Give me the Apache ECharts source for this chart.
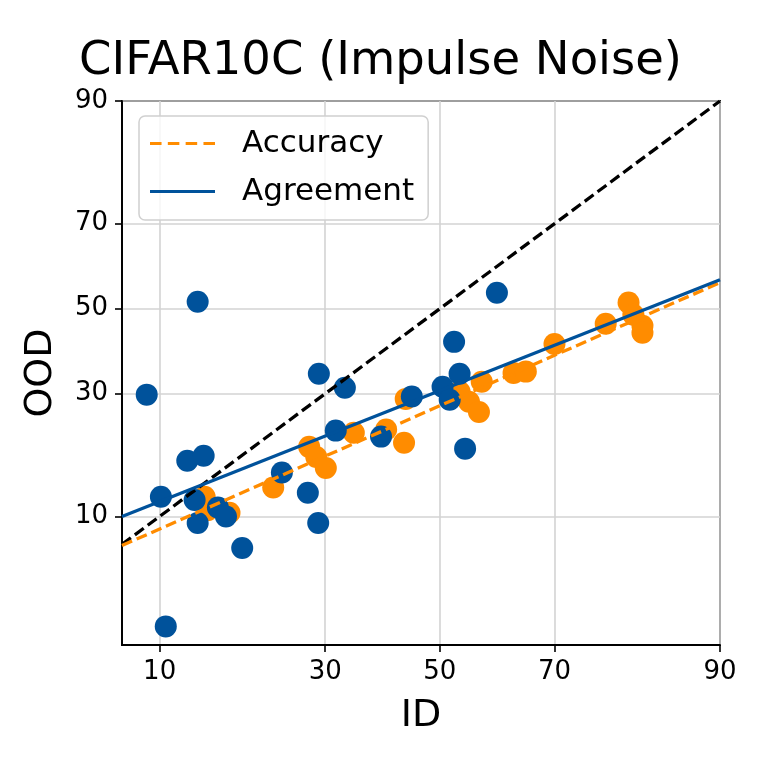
<!DOCTYPE html>
<html>
<head>
<meta charset="utf-8">
<script src="https://cdn.jsdelivr.net/npm/echarts@6/dist/echarts.min.js"></script>
<style>
  html, body { margin: 0; padding: 0; background: #fff; }
  #chart { width: 761px; height: 761px; }
</style>
</head>
<body>
<div id="chart"></div>
<script>
// values in percent (probit axes)
var accId  = [14.1, 14.4, 16.8, 22.3, 27.5, 28.6, 30.1, 34.7, 40.3, 43.5, 43.8, 53.6, 55.3, 57.1, 57.6, 63.2, 65.3, 70.0, 77.6, 80.6, 81.2, 82.3, 82.3];
var accOod = [12.3, 10.7, 10.4, 13.5, 19.7, 18.0, 16.3, 22.2, 22.8, 20.4, 28.9, 30.4, 28.3, 26.2, 32.6, 34.6, 34.9, 41.4, 46.3, 51.5, 48.5, 45.8, 44.1];

var agrId  = [9.0, 13.4, 10.5, 10.1, 12.4, 14.0, 13.1, 13.4, 15.5, 16.4, 18.3, 23.5, 27.3, 28.9, 29.0, 33.2, 31.7, 39.4, 44.9, 50.5, 51.8, 52.6, 53.6, 54.6, 60.3];
var agrOod = [29.8, 51.7, 2.5, 12.3, 17.4, 18.2, 11.9, 9.3, 11.0, 10.0, 7.0, 15.6, 12.8, 9.3, 34.4, 31.3, 22.6, 21.5, 29.4, 31.5, 28.7, 41.9, 34.4, 19.4, 53.9];

// fitted lines (end points) and the y = x reference
var accFitId  = [7.3, 90];
var accFitOod = [7.2, 56.4];
var agrFitId  = [7.3, 90];
var agrFitOod = [10.0, 57.1];
var diagId    = [7.3, 90];
var diagOod   = [7.3, 90];

var tickLabels = [10, 30, 50, 70, 90];
var xRange = [7.3, 90];
var yRange = [1.9, 90];

// inverse normal cdf (Acklam)
function probit(p) {
  var a = [-3.969683028665376e+01, 2.209460984245205e+02, -2.759285104469687e+02, 1.383577518672690e+02, -3.066479806614716e+01, 2.506628277459239e+00];
  var b = [-5.447609879822406e+01, 1.615858368580409e+02, -1.556989798598866e+02, 6.680131188771972e+01, -1.328068155288572e+01];
  var c = [-7.784894002430293e-03, -3.223964580411365e-01, -2.400758277161838e+00, -2.549732539343734e+00, 4.374664141464968e+00, 2.938163982698783e+00];
  var d = [7.784695709041462e-03, 3.224671290700398e-01, 2.445134137142996e+00, 3.754408661907416e+00];
  var pl = 0.02425, q, r;
  if (p < pl) {
    q = Math.sqrt(-2 * Math.log(p));
    return (((((c[0]*q+c[1])*q+c[2])*q+c[3])*q+c[4])*q+c[5]) / ((((d[0]*q+d[1])*q+d[2])*q+d[3])*q+1);
  }
  if (p <= 1 - pl) {
    q = p - 0.5; r = q * q;
    return (((((a[0]*r+a[1])*r+a[2])*r+a[3])*r+a[4])*r+a[5])*q / (((((b[0]*r+b[1])*r+b[2])*r+b[3])*r+b[4])*r+1);
  }
  q = Math.sqrt(-2 * Math.log(1 - p));
  return -(((((c[0]*q+c[1])*q+c[2])*q+c[3])*q+c[4])*q+c[5]) / ((((d[0]*q+d[1])*q+d[2])*q+d[3])*q+1);
}
function pr(v) { return probit(v / 100); }
function pairs(xs, ys) {
  return xs.map(function (x, i) { return [pr(x), pr(ys[i])]; });
}

var tickPos = tickLabels.map(pr);
function tickFormatter(v) {
  var best = 0;
  for (var i = 1; i < tickPos.length; i++) {
    if (Math.abs(tickPos[i] - v) < Math.abs(tickPos[best] - v)) best = i;
  }
  return String(tickLabels[best]);
}

var FONT = 'DejaVu Sans';
var ORANGE = '#ff8c00';
var BLUE = '#00529b';

// legend glyphs: a dashed and a solid short line
var DASH_ICON = 'path://M0,0h11v3h-11z M17,0h11v3h-11z M34,0h11v3h-11z M51,0h11v3h-11z';
var SOLID_ICON = 'path://M0,0h62v3h-62z';

function axisCommon(range, name, gap) {
  return {
    type: 'value',
    min: pr(range[0]),
    max: pr(range[1]),
    name: name,
    nameLocation: 'middle',
    nameGap: gap,
    nameTextStyle: { fontFamily: FONT, fontSize: 38, color: '#000' },
    axisLine: { show: true, onZero: false, lineStyle: { color: '#000', width: 1.8 } },
    axisTick: { show: true, length: 7, inside: false, customValues: tickPos, lineStyle: { color: '#000', width: 1.6 } },
    axisLabel: { customValues: tickPos, formatter: tickFormatter, margin: 14, fontFamily: FONT, fontSize: 26, color: '#000' },
    splitLine: { show: true, lineStyle: { color: '#d3d3d3', width: 1.6 } }
  };
}

var dom = document.getElementById('chart');
var myChart = echarts.init(dom, null, { renderer: 'canvas' });

var option = {
  backgroundColor: '#fff',
  animation: false,
  title: {
    text: 'CIFAR10C (Impulse Noise)',
    left: 'center',
    top: 33,
    textStyle: { fontFamily: FONT, fontSize: 46.5, fontWeight: 'normal', color: '#000' }
  },
  grid: {
    left: 122, right: 41, top: 101, bottom: 116,
    show: true, borderColor: '#000', borderWidth: 1.8, backgroundColor: 'transparent'
  },
  legend: {
    data: [
      { name: 'Accuracy', icon: DASH_ICON },
      { name: 'Agreement', icon: SOLID_ICON }
    ],
    orient: 'vertical',
    left: 139,
    top: 116,
    padding: [12, 14, 13, 11],
    itemGap: 17,
    itemWidth: 65,
    itemHeight: 16,
    borderColor: '#d0d0d0',
    borderWidth: 1.5,
    borderRadius: 6,
    backgroundColor: 'rgba(255,255,255,0.8)',
    textStyle: { fontFamily: FONT, fontSize: 31, color: '#000', padding: [0, 0, 0, 22] }
  },
  xAxis: axisCommon(xRange, 'ID', 52),
  yAxis: axisCommon(yRange, 'OOD', 62),
  series: [
    {
      name: 'accScatter',
      type: 'scatter',
      data: pairs(accId, accOod),
      symbolSize: 22,
      itemStyle: { color: ORANGE, opacity: 1 }
    },
    {
      name: 'agrScatter',
      type: 'scatter',
      data: pairs(agrId, agrOod),
      symbolSize: 22,
      itemStyle: { color: BLUE, opacity: 1 }
    },
    {
      name: 'y=x',
      type: 'line',
      data: pairs(diagId, diagOod),
      symbol: 'none',
      lineStyle: { color: '#000', width: 3.3, type: [11, 5] }
    },
    {
      name: 'Accuracy',
      type: 'line',
      data: pairs(accFitId, accFitOod),
      symbol: 'none',
      itemStyle: { color: ORANGE },
      lineStyle: { color: ORANGE, width: 3.3, type: [11, 5] }
    },
    {
      name: 'Agreement',
      type: 'line',
      data: pairs(agrFitId, agrFitOod),
      symbol: 'none',
      itemStyle: { color: BLUE },
      lineStyle: { color: BLUE, width: 3.3 }
    }
  ]
};

if (option && typeof option === 'object') {
  myChart.setOption(option);
}

window.addEventListener('resize', myChart.resize);
</script>
</body>
</html>
